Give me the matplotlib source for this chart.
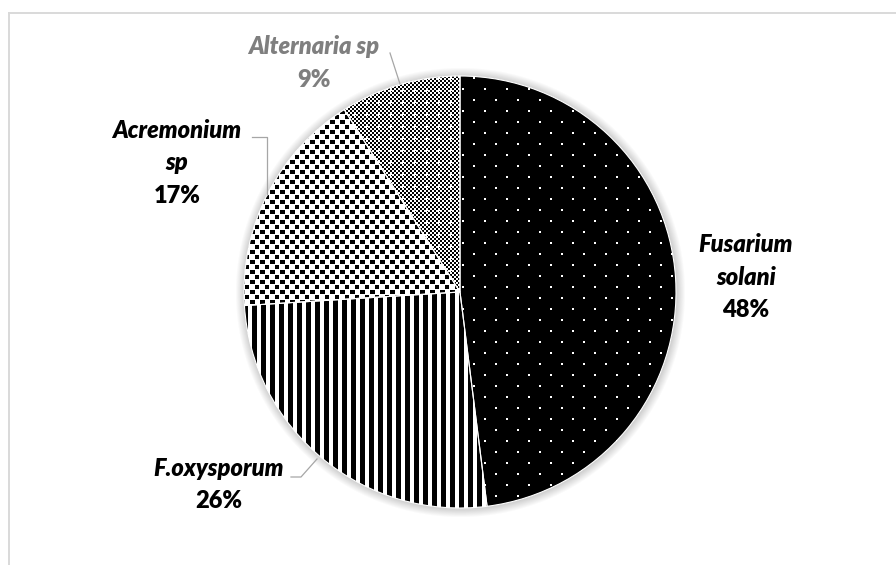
import numpy as np
import matplotlib
matplotlib.use("Agg")
import matplotlib.pyplot as plt

# data
species = [["Fusarium", "solani"], ["F.oxysporum"], ["Acremonium", "sp"], ["Alternaria sp"]]
percent = [48, 26, 17, 9]
label_colors = ["black", "black", "black", "#7f7f7f"]

W, H = 896, 565
fig = plt.figure(figsize=(W / 100, H / 100), dpi=100)
ax = fig.add_axes([0, 0, 1, 1])

cx, cy, r = 460, H - 292, 216

wedges, _ = ax.pie(percent, startangle=90, counterclock=False,
                   center=(cx, cy), radius=r,
                   wedgeprops=dict(facecolor="none", edgecolor="white", linewidth=0.8))

# --- pixel textures to mimic the Excel pattern fills
yy, xx = np.mgrid[0:H, 0:W]

def rgb(mask_black):
    img = np.where(mask_black, 0, 255).astype(np.uint8)
    return np.dstack([img, img, img])

# black with white dots
white_dots = ((xx % 22 < 2) & (yy % 22 < 2)) | (((xx + 11) % 22 < 2) & ((yy + 11) % 22 < 2))
tex_dots = rgb(~white_dots)
# vertical stripes
tex_stripes = rgb(xx % 9 < 5)
# confetti squares
conf = (((xx % 10) < 5) & ((yy % 10) < 4)) | ((((xx + 5) % 10) < 4) & (((yy + 5) % 10) < 4))
tex_conf = rgb(conf)
# fine checker with white crosses
checker = ((xx // 2 + yy // 2) % 2 == 0)
cross = ((np.abs(xx % 12 - 6) < 1) & (np.abs(yy % 12 - 6) < 3)) | \
        ((np.abs(xx % 12 - 6) < 3) & (np.abs(yy % 12 - 6) < 1))
tex_check = rgb(checker & ~cross)

textures = [tex_dots, tex_stripes, tex_conf, tex_check]

# soft shadow around the pie
dist = np.hypot(xx - cx, (H - yy) - cy)
shade = np.clip((dist - r) / 9.0, 0, 1)
alpha = np.where(dist > r - 1, 0.35 * (1 - shade), 0)
shadow = np.zeros((H, W, 4))
shadow[..., :3] = 0.45
shadow[..., 3] = alpha
ax.imshow(shadow, extent=(0, W, 0, H), origin="upper", interpolation="bilinear", zorder=0)

for w, tex in zip(wedges, textures):
    im = ax.imshow(tex, extent=(0, W, 0, H), origin="upper",
                   interpolation="nearest", zorder=0.5)
    im.set_clip_path(w)

# label line positions (centre x, first line y, line step) in pixels from top-left
label_pos = [(746, 245, 32.5), (219, 468, 33), (177, 130, 33), (314, 46, 34)]
font = dict(fontsize=17, fontfamily="Lato", fontweight="heavy")
for lines, p, col, (lx, ly, step) in zip(species, percent, label_colors, label_pos):
    for i, s in enumerate(lines):
        ax.text(lx, H - (ly + i * step), s, ha="center", va="center",
                color=col, fontstyle="italic", **font)
    ax.text(lx, H - (ly + len(lines) * step), f"{p}%", ha="center", va="center",
            color=col, **font)

# leader lines
leaders = [
    [(291, 477), (301, 477), (317, 459)],
    [(252, 137), (267, 137), (267, 195)],
    [(390, 53), (400, 84)],
]
for pts in leaders:
    px = [p[0] for p in pts]
    py = [H - p[1] for p in pts]
    ax.plot(px, py, color="#a6a6a6", linewidth=0.9, zorder=2)

# chart frame (top and left visible)
ax.plot([8.5, W], [H - 12.5, H - 12.5], color="#d9d9d9", linewidth=1.4)
ax.plot([8.5, 8.5], [H - 12.5, 0], color="#d9d9d9", linewidth=1.4)

ax.set_xlim(0, W)
ax.set_ylim(0, H)
ax.set_aspect("equal")
ax.axis("off")

fig.savefig("out.png", dpi=100)
